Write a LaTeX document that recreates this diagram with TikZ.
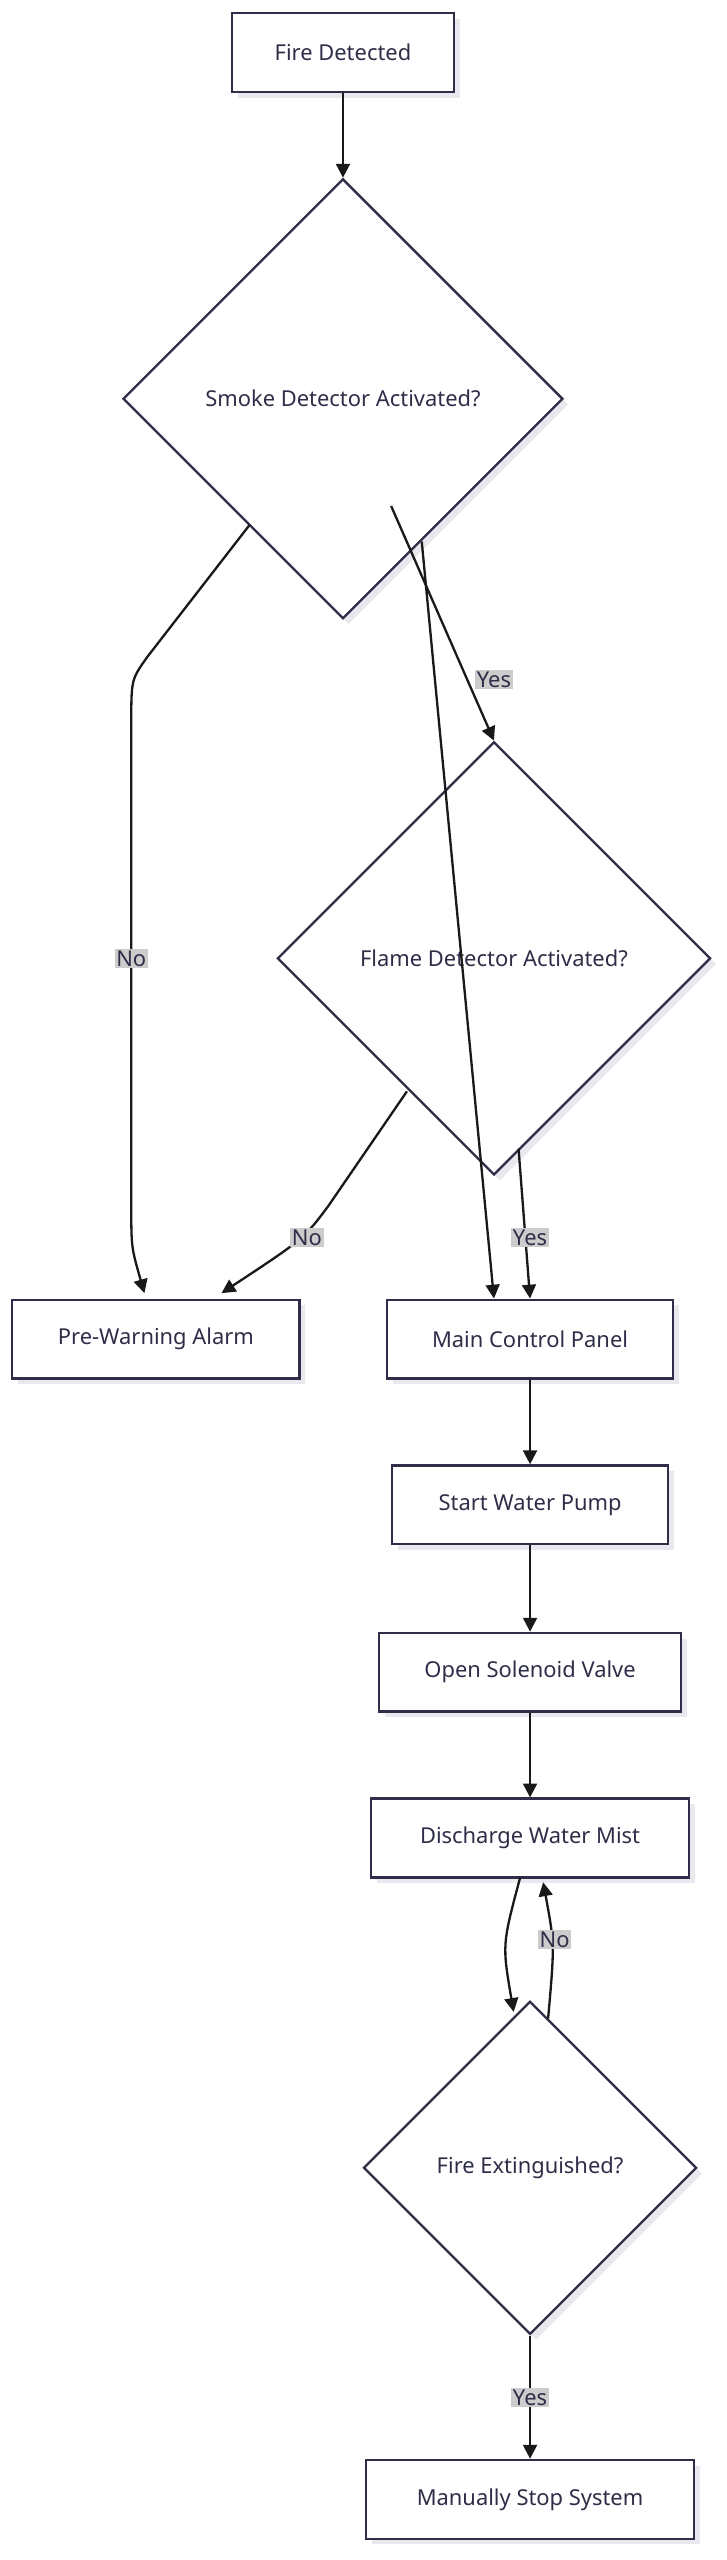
\documentclass[tikz,border=0pt]{standalone}
\usepackage{fontspec}
\setmainfont{Noto Sans}
\usetikzlibrary{shapes.geometric,arrows.meta,shadows}
\definecolor{edgec}{HTML}{2E2E48}
\definecolor{shade}{HTML}{E8E8EE}
\begin{document}
\begin{tikzpicture}[x=0.05cm,y=-0.05cm,
    every node/.style={font=\fontsize{19}{22}\selectfont, text=edgec},
    box/.style={draw=edgec, line width=2pt, fill=white, rectangle,
        minimum height=48*0.05cm,
        drop shadow={shadow xshift=5pt, shadow yshift=-5pt, fill=shade, opacity=1}},
    dia/.style={draw=edgec, line width=2pt, fill=white, diamond, aspect=1,
        inner sep=0pt,
        drop shadow={shadow xshift=5pt, shadow yshift=-5pt, fill=shade, opacity=1}},
    link/.style={line width=2pt, black!90, -{Triangle[length=12pt,width=12pt]}},
    lbl/.style={fill=black!20, inner sep=1.5pt, text=edgec}]
\useasboundingbox (0,0) rectangle (443,1560);
% nodes
\node[box, minimum width=135*0.05cm] (fire) at (209,32) {Fire Detected};
\node[dia, minimum size=268*0.05cm] (smoke) at (209,243) {Smoke Detector Activated?};
\node[dia, minimum size=264*0.05cm] (flame) at (301,584) {Flame Detector Activated?};
\node[box, minimum width=175*0.05cm] (warn) at (95,816) {Pre-Warning Alarm};
\node[box, minimum width=174*0.05cm] (panel) at (323,816) {Main Control Panel};
\node[box, minimum width=168*0.05cm] (pump) at (323,917) {Start Water Pump};
\node[box, minimum width=184*0.05cm] (valve) at (323,1019) {Open Solenoid Valve};
\node[box, minimum width=194*0.05cm] (mist) at (323,1120) {Discharge Water Mist};
\node[dia, minimum size=203*0.05cm] (ext) at (323,1321) {Fire Extinguished?};
\node[box, minimum width=200*0.05cm] (stop) at (323,1523) {Manually Stop System};
% connectors
\draw[link] (fire) -- (smoke);
\draw[link] (257,330) -- (panel.north -| 301,0) node[pos=0, coordinate] {};
\draw[link] (smoke.south east) ++(-38,-2) coordinate (sy) -- (flame.north);
\node[lbl] at (301,414) {Yes};
\draw[link] (152,320) -- (90,400) .. controls (80,414) .. (80,440) -- (80,735)
    .. controls (80,760) .. (88,788) coordinate (wn);
\node[lbl] at (80,584) {No};
\draw[link] (248,665) -- (200,735) .. controls (185,755) .. (135,788);
\node[lbl] at (187,754) {No};
\draw[link] (316,700) -- (panel.north);
\node[lbl] at (323,754) {Yes};
\draw[link] (panel) -- (pump);
\draw[link] (pump) -- (valve);
\draw[link] (valve) -- (mist);
\draw[link] (317,1144) .. controls (306,1185) .. (313,1226);
\draw[link] (334,1230) .. controls (338,1185) .. (331,1147);
\node[lbl] at (338,1182) {No};
\draw[link] (ext.south) -- (stop.north);
\node[lbl] at (323,1461) {Yes};
\end{tikzpicture}
\end{document}
